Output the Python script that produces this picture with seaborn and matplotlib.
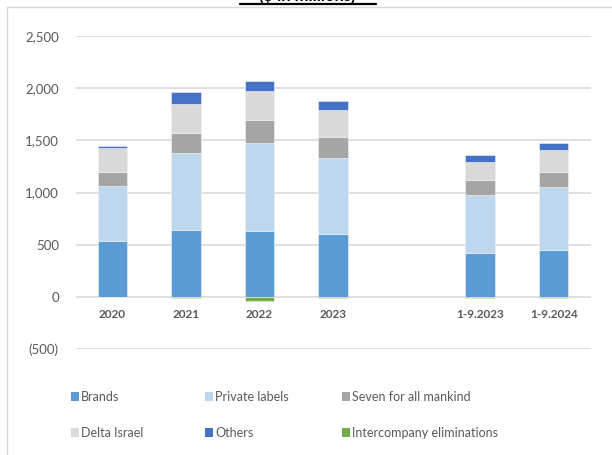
import numpy as np
import pandas as pd
import matplotlib
matplotlib.use("Agg")
import matplotlib.pyplot as plt
from matplotlib.patches import Patch
from matplotlib.lines import Line2D
from matplotlib.ticker import FuncFormatter, MultipleLocator
import seaborn as sns

# Revenue by segment ($ in millions); the blank period leaves a gap between
# the full years and the nine-month comparison.
nan = np.nan
periods = ["2020", "2021", "2022", "2023", "", "1-9.2023", "1-9.2024"]
brands = [537, 645, 633, 604, nan, 422, 448]
private_labels = [527, 729, 846, 729, nan, 553, 600]
seven_for_all_mankind = [134, 192, 215, 201, nan, 147, 144]
delta_israel = [227, 287, 278, 259, nan, 175, 217]
others = [22, 109, 96, 83, nan, 67, 61]
intercompany = [0, -10, -38, -15, nan, -10, -15]

series_names = ["Brands", "Private labels", "Seven for all mankind",
                "Delta Israel", "Others", "Intercompany eliminations"]
series_values = [brands, private_labels, seven_for_all_mankind,
                 delta_israel, others, intercompany]
series_colors = ["#5B9BD5", "#BDD7EE", "#A5A5A5", "#D9D9D9", "#4472C4", "#70AD47"]

sns.set_theme(style="white")
plt.rcParams["font.family"] = ["Lato", "DejaVu Sans"]
text_color = "#595959"

W, H = 612, 455
fig = plt.figure(figsize=(W / 100, H / 100), dpi=100)
ax = fig.add_axes([75.5 / W, 1 - 349 / H, 515 / W, 313 / H])

df = pd.DataFrame({"period": periods})
pos_bottom = np.zeros(len(periods))
for name, vals, col in zip(series_names, series_values, series_colors):
    vals = np.asarray(vals, dtype=float)
    present = ~np.isnan(vals)
    df[name] = vals
    if name == "Intercompany eliminations":
        bottom = np.zeros(len(periods))
    else:
        bottom = pos_bottom.copy()
        pos_bottom += np.nan_to_num(vals)
    # empty periods are dropped by seaborn, so the stacking offsets follow suit
    sns.barplot(data=df, x="period", y=name, order=periods, color=col,
                bottom=bottom[present], width=0.4, edgecolor="#F2F2F2",
                linewidth=0.4, saturation=1, ax=ax)

ax.set_xlim(-0.5, len(periods) - 0.5)
ax.set_ylim(-500, 2500)
ax.yaxis.set_major_locator(MultipleLocator(500))
ax.yaxis.set_major_formatter(FuncFormatter(
    lambda v, p: f"({abs(int(v)):,})" if v < 0 else f"{int(v):,}"))
ax.grid(axis="y", color="#D9D9D9", linewidth=1.2)
ax.set_axisbelow(True)
for s in ax.spines.values():
    s.set_visible(False)
ax.set_xlabel("")
ax.set_ylabel("")
ax.set_xticks([])
ax.tick_params(axis="y", length=0, pad=12, labelsize=9.5, labelcolor=text_color)

# Category labels sit just under the zero line
for i, lab in enumerate(periods):
    ax.annotate(lab, xy=(i, 0), xytext=(0, -12.5), textcoords="offset points",
                ha="center", va="center", fontsize=8.5, fontweight="bold",
                color=text_color)

# Legend in three columns of two entries
handles = [Patch(facecolor=c, edgecolor="none") for c in series_colors]
col_x = [71, 205, 342]
for k in range(3):
    leg = fig.legend([handles[k], handles[k + 3]],
                     [series_names[k], series_names[k + 3]],
                     loc="upper left", bbox_to_anchor=(col_x[k] / W, 1 - 391 / H),
                     frameon=False, fontsize=9.0, handlelength=0.65,
                     handleheight=0.65, handletextpad=0.15, labelspacing=1.9,
                     borderaxespad=0, borderpad=0)
    for t in leg.get_texts():
        t.set_color(text_color)

# Title (top edge of the panel)
fig.text(307 / W, 1 - 3.5 / H, "($ in millions)", ha="center", va="bottom",
         fontsize=12, fontweight="bold", color="black")
fig.add_artist(Line2D([240 / W, 376 / W], [1 - 4 / H, 1 - 4 / H],
                      color="black", linewidth=1.6, transform=fig.transFigure))

# Panel border
fig.add_artist(Line2D([6.5 / W, 6.5 / W], [0, 1 - 7 / H], color="#D9D9D9",
                      linewidth=1.0, transform=fig.transFigure))
fig.add_artist(Line2D([6.5 / W, 1], [1 - 7 / H, 1 - 7 / H], color="#D9D9D9",
                      linewidth=1.0, transform=fig.transFigure))

fig.savefig("out.png", dpi=100, facecolor="white")
